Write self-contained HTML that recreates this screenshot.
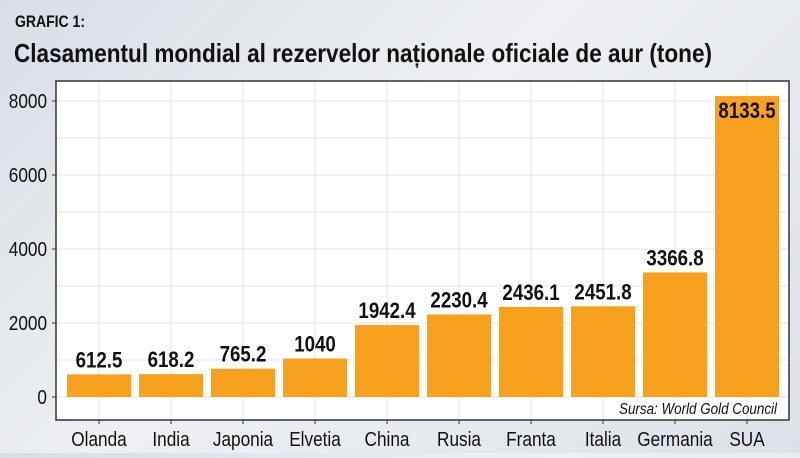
<!DOCTYPE html>
<html><head><meta charset="utf-8"><style>
html,body{margin:0;padding:0}
body{width:800px;height:453px;overflow:hidden;background:linear-gradient(135deg,#d9dee5 0%,#eef0f3 45%,#dde1e7 100%);font-family:"Liberation Sans",sans-serif}
</style></head><body>
<svg id="chart" width="800" height="453" xmlns="http://www.w3.org/2000/svg">
<text x="15" y="27" font-size="17" font-weight="bold" fill="#111" textLength="70" lengthAdjust="spacingAndGlyphs">GRAFIC 1:</text>
<text x="14" y="62" font-size="26" font-weight="bold" fill="#111" textLength="698" lengthAdjust="spacingAndGlyphs">Clasamentul mondial al rezervelor naționale oficiale de aur (tone)</text>
<rect x="56" y="81" width="733" height="339" fill="#fff" stroke="#333" stroke-width="1.5"/>
<g id="grid"></g><g id="bars"></g><g id="axes"></g>
<text x="619" y="414" font-size="16" font-style="italic" fill="#111" textLength="158" lengthAdjust="spacingAndGlyphs">Sursa: World Gold Council</text>
</svg>
<script>
const categories=["Olanda","India","Japonia","Elvetia","China","Rusia","Franta","Italia","Germania","SUA"];
const values=[612.5,618.2,765.2,1040,1942.4,2230.4,2436.1,2451.8,3366.8,8133.5];
const valueLabels=["612.5","618.2","765.2","1040","1942.4","2230.4","2436.1","2451.8","3366.8","8133.5"];
const yTicks=[0,2000,4000,6000,8000];
const NS="http://www.w3.org/2000/svg";
const y=v=>397-v*0.037;
const x=i=>99+i*72;
function mk(tag,attrs,parent,txt){const e=document.createElementNS(NS,tag);for(const k in attrs)e.setAttribute(k,attrs[k]);if(txt!==undefined)e.textContent=txt;parent.appendChild(e);return e;}
function tx(px,py,sx,attrs,parent,txt){attrs.x=0;attrs.y=0;attrs.transform='translate('+px+','+py+') scale('+sx+',1)';return mk('text',attrs,parent,txt);}
const grid=document.getElementById('grid'),bars=document.getElementById('bars'),axes=document.getElementById('axes');
for(let v=0;v<=8000;v+=1000){const l=mk('line',{x1:57,x2:788,y1:y(v),y2:y(v),stroke:'#e6e6e6','stroke-width':1},grid);

}
categories.forEach((c,i)=>{const l=mk('line',{x1:x(i),x2:x(i),y1:82,y2:419,stroke:'#e6e6e6','stroke-width':1},grid);


const r=mk('rect',{x:x(i)-32,y:y(values[i]),width:64,height:y(0)-y(values[i]),fill:'#f8a11e'},bars);


const big=values[i]>7000;
const t=tx(x(i),big?y(values[i])+22:y(values[i])-7,0.85,{'font-size':22,'font-weight':'bold','text-anchor':'middle',fill:'#111'},bars,valueLabels[i]);


const tk=mk('line',{x1:x(i),x2:x(i),y1:420,y2:424,stroke:'#333'},axes);


const xl=tx(x(i),446,0.86,{'font-size':20,'text-anchor':'middle',fill:'#111'},axes,c);

});
yTicks.forEach(v=>{const tk=mk('line',{x1:52,x2:56,y1:y(v),y2:y(v),stroke:'#333'},axes);


const t=tx(47,y(v)+7,0.86,{'font-size':20,'text-anchor':'end',fill:'#111'},axes,String(v));

});
</script>
</body></html>
